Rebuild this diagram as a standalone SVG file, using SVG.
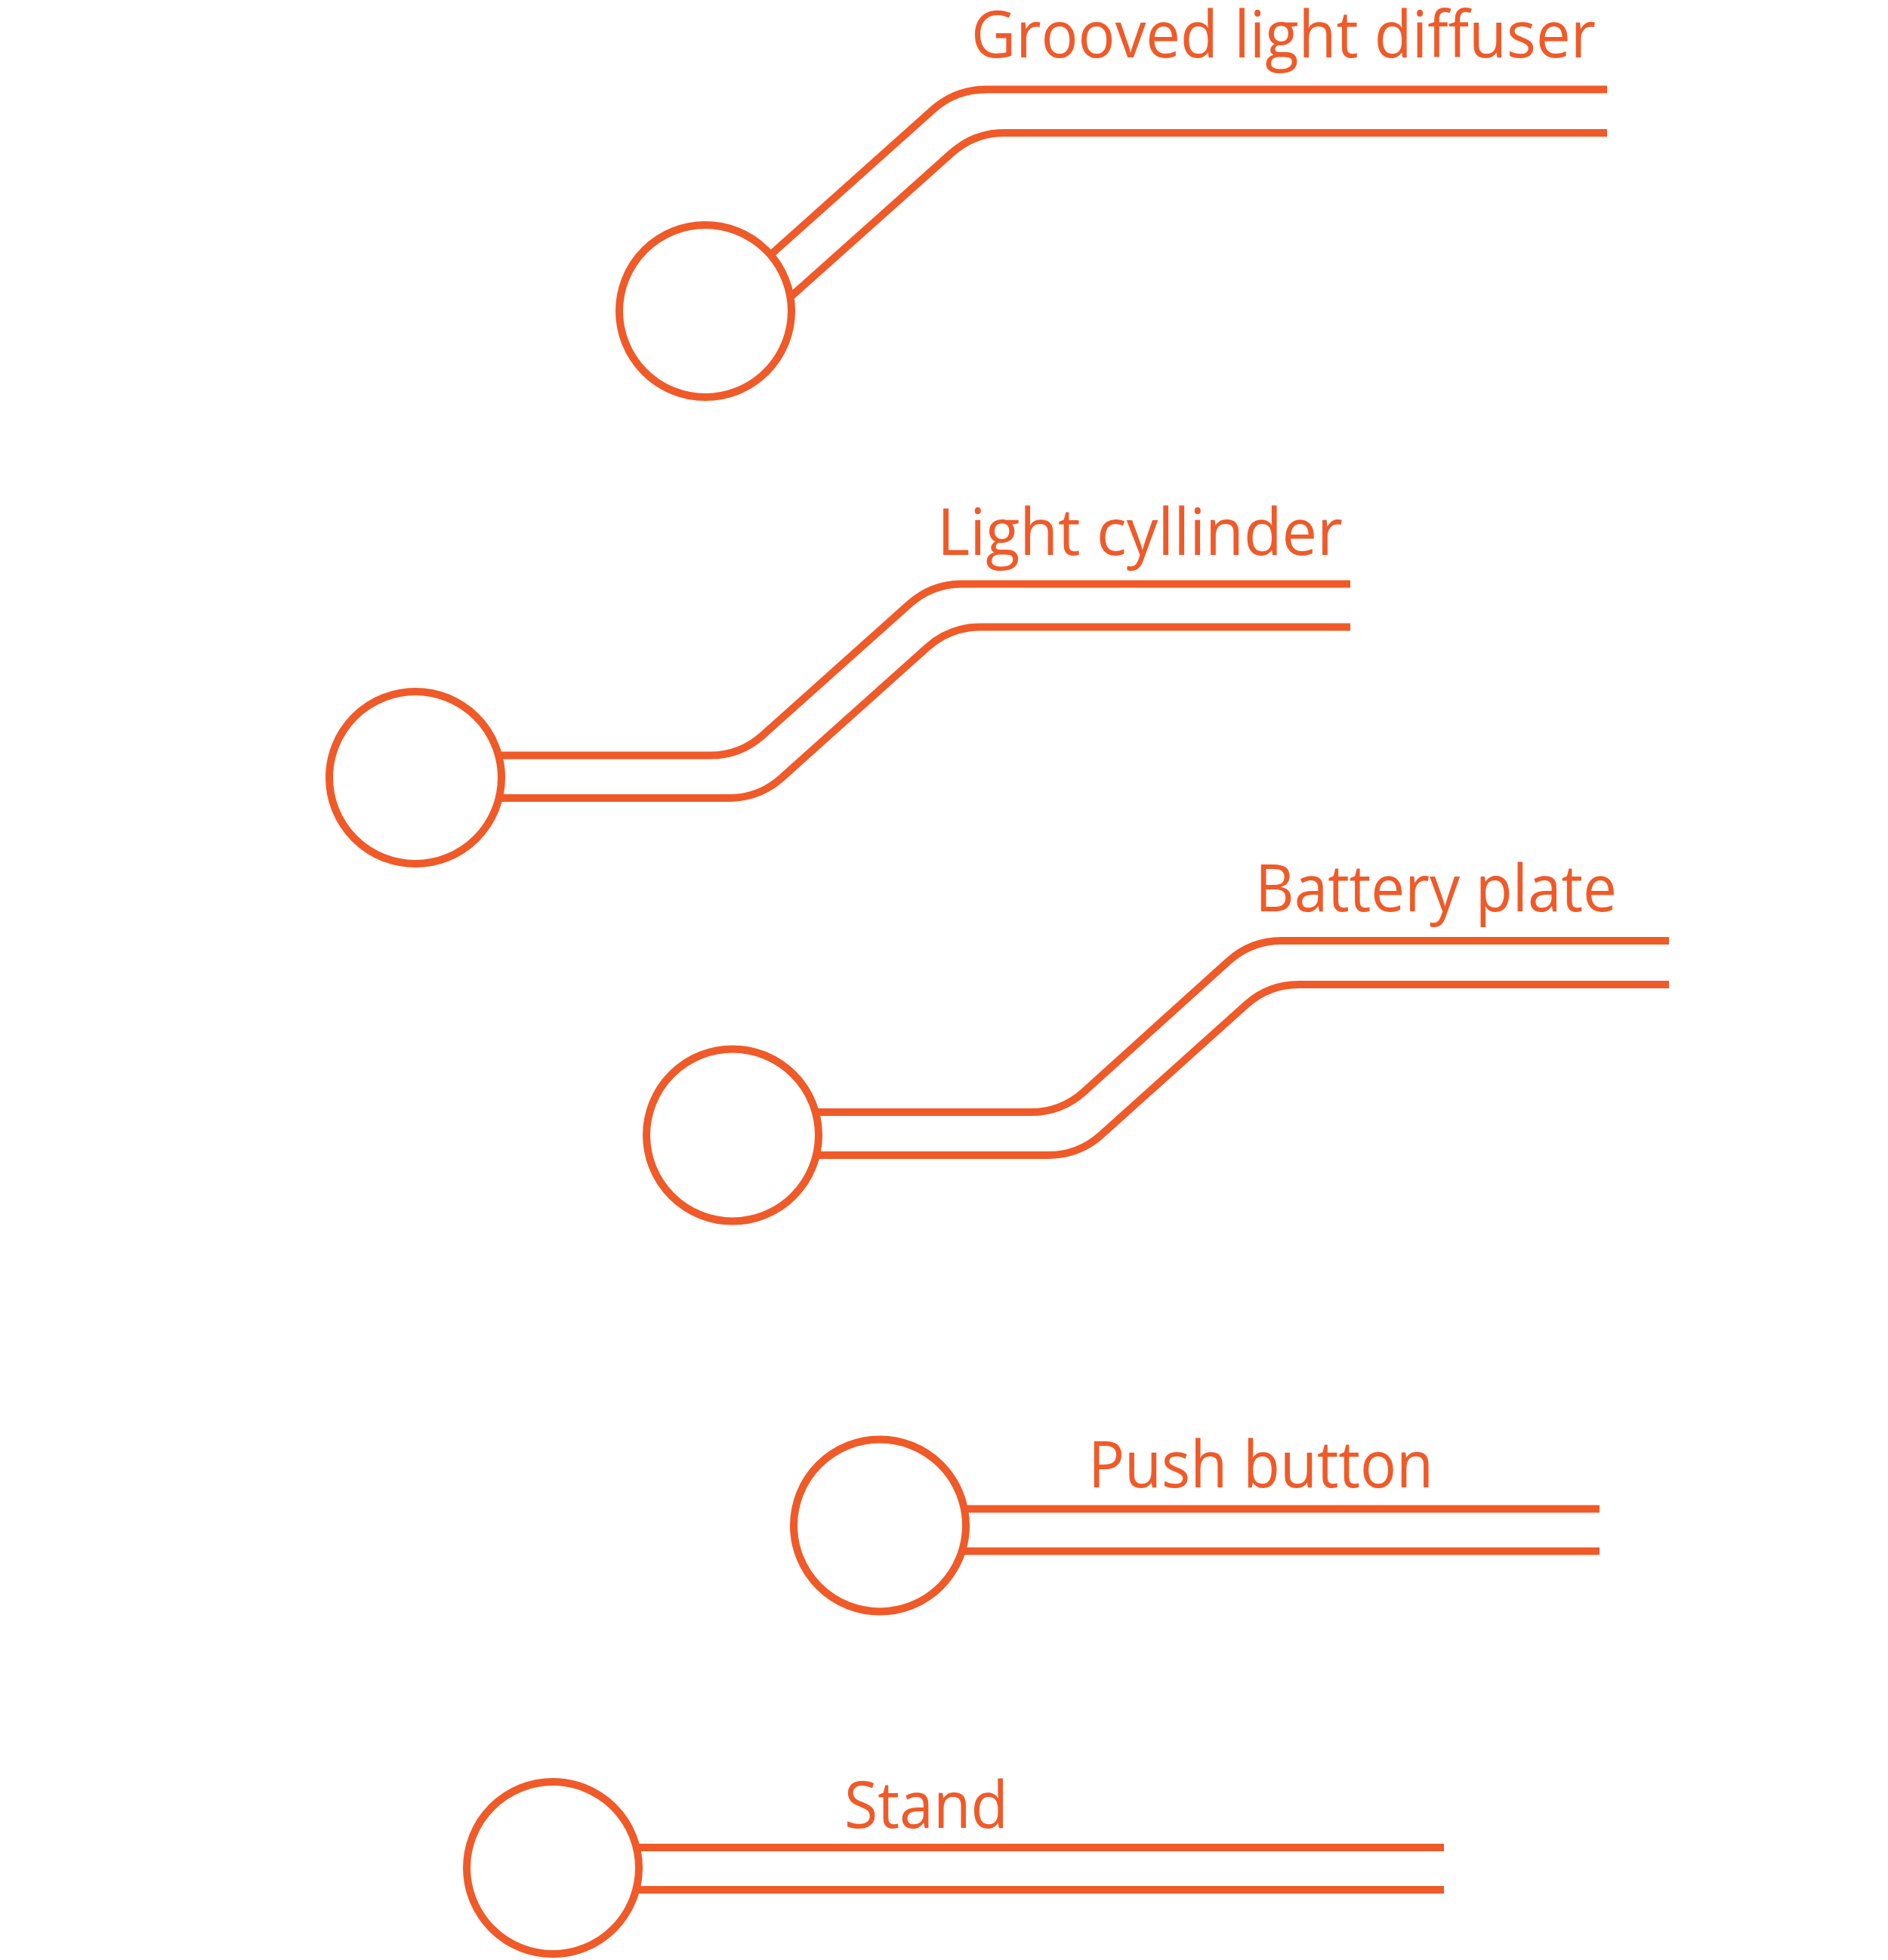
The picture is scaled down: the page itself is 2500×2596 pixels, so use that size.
<svg xmlns="http://www.w3.org/2000/svg" width="2500" height="2596" viewBox="0 0 2500 2596">
<style>
.wire{fill:none;stroke:#F05A28;stroke-width:10;stroke-linecap:butt;stroke-linejoin:round}
.node circle{fill:#FFFFFF;stroke:#F05A28;stroke-width:10}
.label{fill:#F05A28;font-family:"Open Sans","Noto Sans","Liberation Sans",sans-serif;font-size:86px}
</style>
<rect x="0" y="0" width="2500" height="2596" fill="#FFFFFF"/>
<g id="connectors">
<path class="wire" d="M937,412 L1236.2,144.6 Q1266,118.5 1306,118.5 H2128"/>
<path class="wire" d="M990,444 L1260.2,202.6 Q1290,176 1330,176 H2128"/>
<path class="wire" d="M550,1000.5 H940 Q980,1000.5 1009.8,973.9 L1204.2,800.1 Q1234,773.5 1274,773.5 H1788"/>
<path class="wire" d="M550,1057 H965 Q1005,1057 1034.8,1030.4 L1228.2,857.1 Q1258,830.5 1298,830.5 H1788"/>
<path class="wire" d="M970,1473 H1365 Q1405,1473 1434.8,1446.4 L1627.2,1272.6 Q1657,1246 1697,1246 H2210"/>
<path class="wire" d="M970,1530 H1388 Q1428,1530 1457.8,1503.4 L1650.2,1330.6 Q1680,1304 1720,1304 H2210"/>
<path class="wire" d="M1165,1998.5 H2118"/>
<path class="wire" d="M1165,2054.5 H2118"/>
<path class="wire" d="M732,2447 H1912"/>
<path class="wire" d="M732,2503 H1912"/>
</g>
<g id="grooved-light-diffuser" class="node">
<circle cx="934" cy="412" r="114"/>
<text class="label" x="1286" y="76" textLength="827" lengthAdjust="spacingAndGlyphs">Grooved light diffuser</text>
</g>
<g id="light-cylinder" class="node">
<circle cx="550" cy="1030" r="114"/>
<text class="label" x="1241" y="735" textLength="537" lengthAdjust="spacingAndGlyphs">Light cyllinder</text>
</g>
<g id="battery-plate" class="node">
<circle cx="970" cy="1503.5" r="114"/>
<text class="label" x="1662" y="1207" textLength="479" lengthAdjust="spacingAndGlyphs">Battery plate</text>
</g>
<g id="push-button" class="node">
<circle cx="1165" cy="2020.5" r="114"/>
<text class="label" x="1441" y="1970" textLength="457" lengthAdjust="spacingAndGlyphs">Push button</text>
</g>
<g id="stand" class="node">
<circle cx="732" cy="2474" r="114"/>
<text class="label" x="1118" y="2421" textLength="217" lengthAdjust="spacingAndGlyphs">Stand</text>
</g>
</svg>
